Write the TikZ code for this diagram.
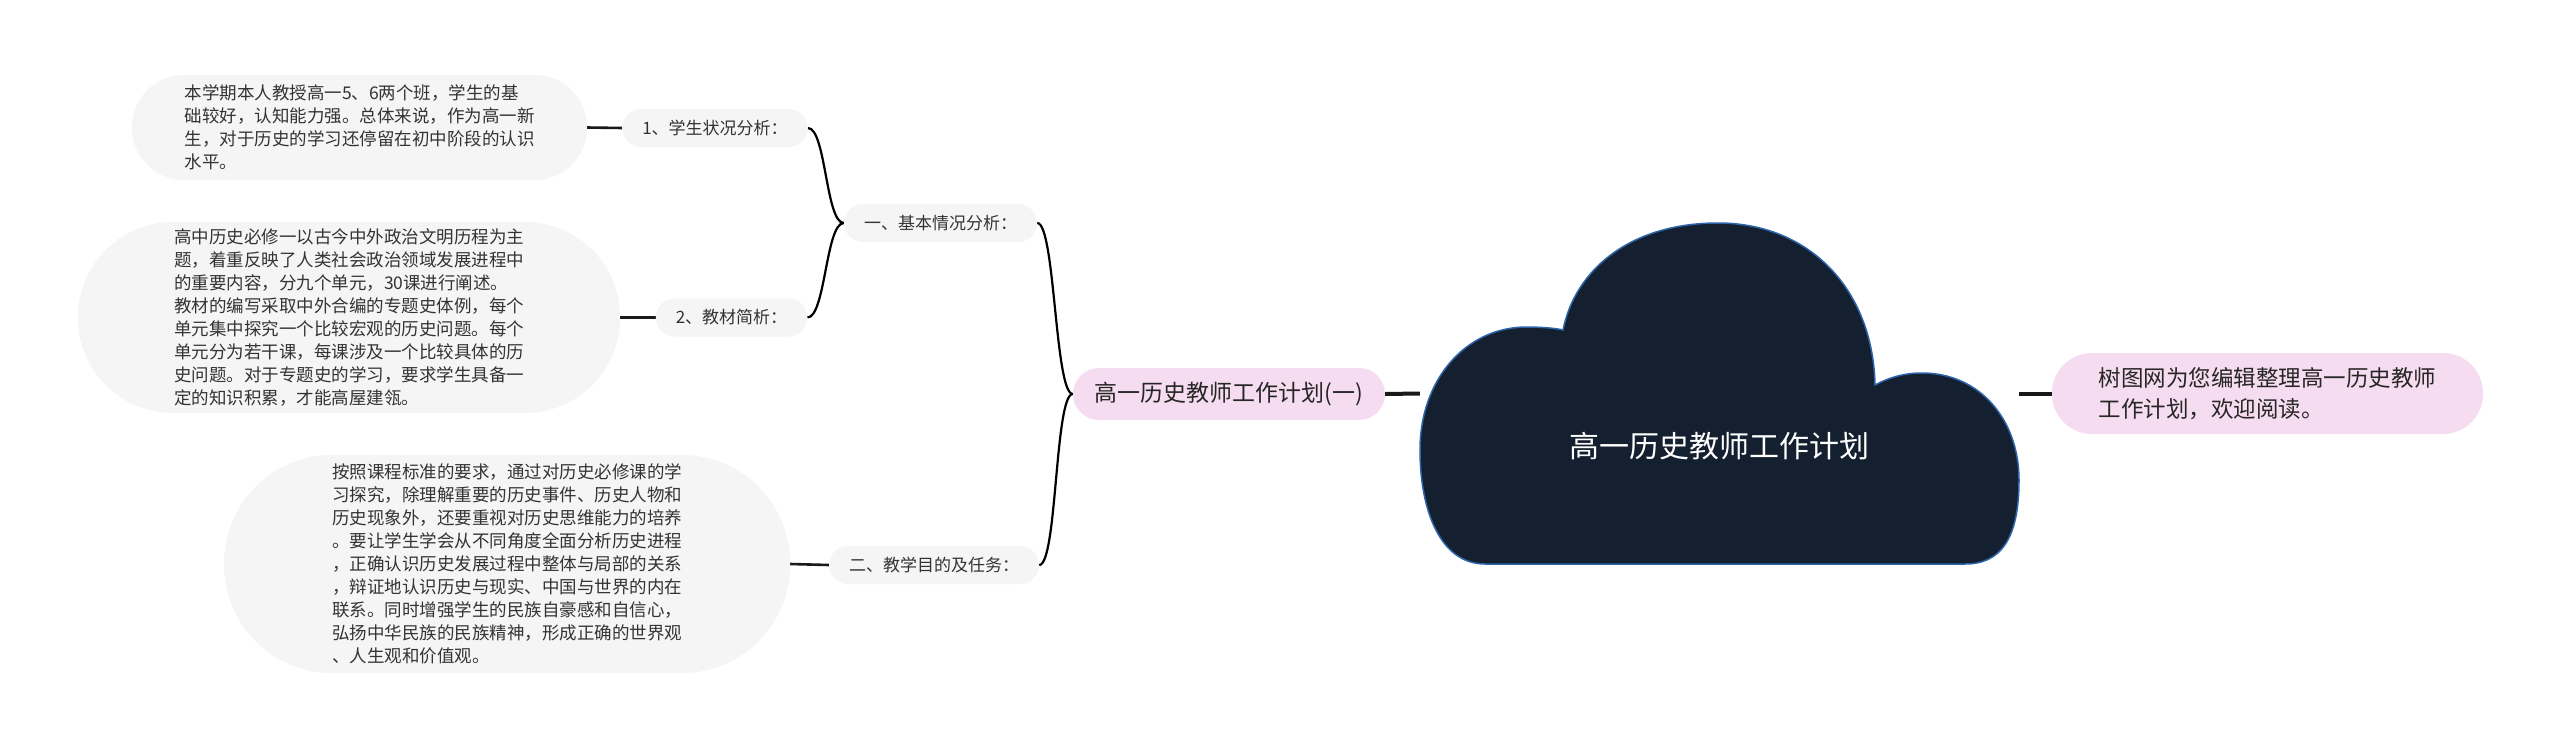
\documentclass[tikz,border=0pt]{standalone}
\usepackage{fontspec}
\setmainfont{Noto Sans CJK SC}
\usetikzlibrary{backgrounds}
\definecolor{leafgray}{RGB}{245,245,245}
\definecolor{pinkfill}{RGB}{246,220,240}
\definecolor{cloudfill}{RGB}{20,32,47}
\definecolor{cloudedge}{RGB}{45,100,170}
\definecolor{txt}{RGB}{51,51,51}
\begin{document}
\begin{tikzpicture}[x=1pt,y=-1pt,
  leaf/.style={fill=leafgray, inner sep=0pt, align=left, text=txt,
    font=\fontsize{17.5}{23}\selectfont},
  tag/.style={fill=leafgray, inner ysep=0pt, inner xsep=20pt, minimum height=38,
    rounded corners=19, text=txt, font=\fontsize{17}{20}\selectfont},
  pinknode/.style={fill=pinkfill, inner sep=0pt, text=black!85},
  conn/.style={line width=2.6pt, black!90},
  bigconn/.style={line width=4pt, black!90},
  curve/.style={line width=2.2pt, black},
  cloudpath/.style={fill=cloudfill, draw=cloudedge, line width=1.5pt}
]
\useasboundingbox (0,0) rectangle (2560,750);

% leaves
\node[leaf, minimum width=455, minimum height=105, rounded corners=52] (leafA) at (359.5,127.5)
 {本学期本人教授高一5、6两个班，学生的基\\础较好，认知能力强。总体来说，作为高一新\\生，对于历史的学习还停留在初中阶段的认识\\水平。};
\node[leaf, minimum width=542, minimum height=191, rounded corners=95] (leafB) at (349,317.5)
 {高中历史必修一以古今中外政治文明历程为主\\题，着重反映了人类社会政治领域发展进程中\\的重要内容，分九个单元，30课进行阐述。\\教材的编写采取中外合编的专题史体例，每个\\单元集中探究一个比较宏观的历史问题。每个\\单元分为若干课，每课涉及一个比较具体的历\\史问题。对于专题史的学习，要求学生具备一\\定的知识积累，才能高屋建瓴。};
\node[leaf, minimum width=566, minimum height=218, rounded corners=108] (leafC) at (507,564)
 {按照课程标准的要求，通过对历史必修课的学\\习探究，除理解重要的历史事件、历史人物和\\历史现象外，还要重视对历史思维能力的培养\\。要让学生学会从不同角度全面分析历史进程\\，正确认识历史发展过程中整体与局部的关系\\，辩证地认识历史与现实、中国与世界的内在\\联系。同时增强学生的民族自豪感和自信心，\\弘扬中华民族的民族精神，形成正确的世界观\\、人生观和价值观。};

% tags
\node[tag] (tagA) at (715,128) {1、学生状况分析：};
\node[tag] (tagB) at (731.5,317.5) {2、教材简析：};
\node[tag] (secA) at (940.5,223) {一、基本情况分析：};
\node[tag] (secB) at (934,565) {二、教学目的及任务：};

% pink nodes
\node[pinknode, minimum width=312, minimum height=52, rounded corners=26,
  font=\fontsize{23}{27}\selectfont] (sub) at (1229,394) {高一历史教师工作计划(一)};
\node[pinknode, minimum width=431, minimum height=81, rounded corners=40, align=left,
  font=\fontsize{22.5}{31}\selectfont] (rnode) at (2267.5,393.5)
  {树图网为您编辑整理高一历史教师\\工作计划，欢迎阅读。};

% root frame
\node[minimum width=599, minimum height=341, inner sep=0pt] (root) at (1719.5,393.5) {};

% connectors
\begin{scope}[on background layer]
\fill[white] (0,0) rectangle (2560,750);
\draw[conn] (leafA.east) -- (tagA.west);
\draw[conn] (leafB.east) -- (tagB.west);
\draw[conn] (leafC.east) -- (secB.west);
\draw[bigconn] (sub.east) -- (root.west);
\draw[bigconn] (root.east) -- (rnode.west);
\draw[curve] (secA.west) .. controls +(-18,0) and +(18,0) .. (tagA.east);
\draw[curve] (secA.west) .. controls +(-18,0) and +(18,0) .. (tagB.east);
\draw[curve] (sub.west) .. controls +(-18,0) and +(18,0) .. (secA.east);
\draw[curve] (sub.west) .. controls +(-18,0) and +(18,0) .. (secB.east);
\end{scope}

% cloud
\path[cloudpath] (1485,564)
  .. controls (1440,564) and (1420,510) .. (1420,450)
  .. controls (1420,380) and (1465,328) .. (1525,327)
  .. controls (1540,327) and (1555,328) .. (1563,330)
  .. controls (1575,270) and (1630,223) .. (1718,223)
  .. controls (1810,223) and (1873,290) .. (1875,385)
  .. controls (1890,377) and (1905,373) .. (1922,373)
  .. controls (1980,373) and (2019,420) .. (2019,480)
  .. controls (2019,540) and (2000,564) .. (1965,564)
  -- cycle;
\node[text=white, font=\fontsize{30}{34}\selectfont] (roottitle) at (1719,446) {高一历史教师工作计划};
\end{tikzpicture}
\end{document}
